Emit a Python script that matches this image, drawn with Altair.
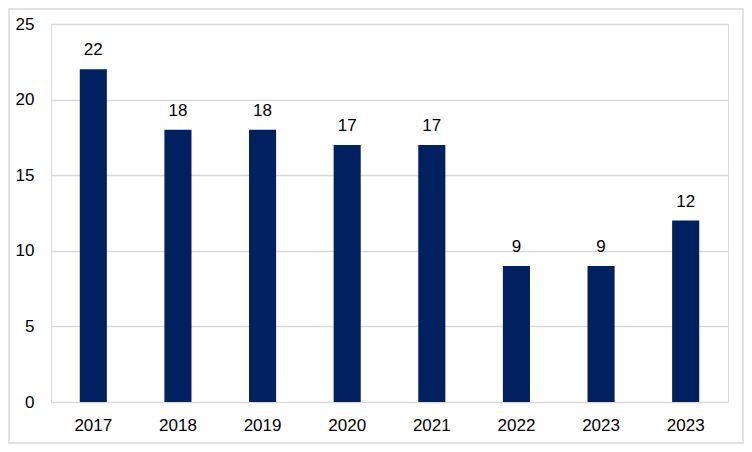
import altair as alt
import pandas as pd

years = ["2017", "2018", "2019", "2020", "2021", "2022", "2023", "2023"]
values = [22, 18, 18, 17, 17, 9, 9, 12]

df = pd.DataFrame({
    "key": [f"{y}#{i}" for i, y in enumerate(years)],
    "value": values,
})

FONT = "Liberation Sans"
FS = 17
W, H = 677, 378

x = alt.X("key:N", sort=None, title=None,
          scale=alt.Scale(paddingInner=0.68, paddingOuter=0.34),
          axis=alt.Axis(labelExpr="split(datum.label, '#')[0]", labelAngle=0,
                        ticks=False, domain=False, labelPadding=15,
                        labelFontSize=FS, labelColor="#000000", labelFont=FONT))
y = alt.Y("value:Q", title=None,
          scale=alt.Scale(domain=[0, 25], nice=False),
          axis=alt.Axis(values=[0, 5, 10, 15, 20, 25], ticks=False, domain=False,
                        labelPadding=17, labelFontSize=FS, labelColor="#000000",
                        labelFont=FONT, gridColor="#d9d9d9", gridWidth=1.5))

base = alt.Chart(df)
bars = base.mark_bar(color="#002060").encode(x=x, y=y)
labels = base.mark_text(dy=-14, baseline="alphabetic", fontSize=FS, font=FONT,
                        color="#000000").encode(
    x=alt.X("key:N", sort=None), y="value:Q", text="value:Q")

border = alt.Chart(pd.DataFrame({"a": [0]})).mark_rect(
    fill=None, stroke="#d9d9d9", strokeWidth=1.5, clip=False
).encode(x=alt.value(-42), x2=alt.value(W + 15), y=alt.value(-15), y2=alt.value(H + 41))

chart = alt.layer(bars, labels, border).properties(
    width=W, height=H,
    autosize=alt.AutoSizeParams(type="none"),
    padding={"left": 43, "top": 16, "right": 16, "bottom": 42},
).configure_view(stroke=None).configure(background="#ffffff")

chart.save("out.html", embed_options={"renderer": "svg", "actions": False})
